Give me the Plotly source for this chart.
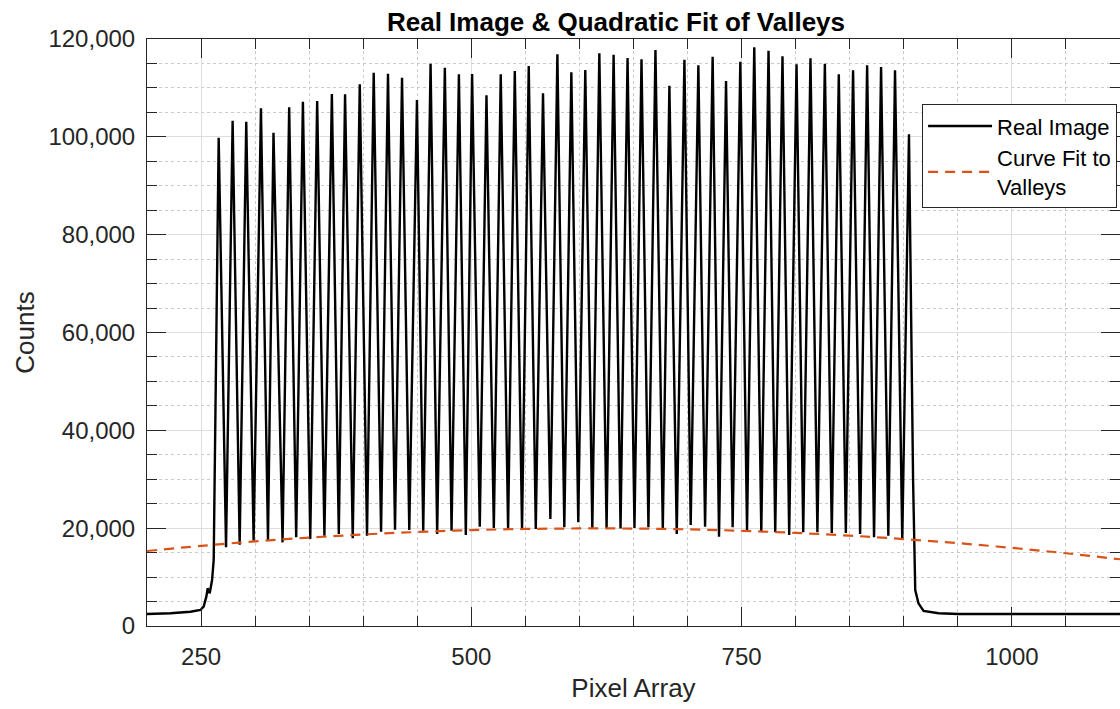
import plotly.graph_objects as go

# ---------------- data ----------------
# left baseline and first rise
base_left_x = [200, 221.7, 240.2, 249.4, 252.4, 254.9, 256.1, 258.0, 260.2, 261.7]
base_left_y = [2450, 2600, 2920, 3270, 3950, 6000, 7700, 6680, 9400, 13500]

# peaks of the real image
peak_x = [266.3, 279.2, 291.8, 305.4, 317.0, 331.5, 344.2, 357.4, 371.0, 383.2,
          396.8, 409.7, 422.9, 435.9, 449.7, 462.3, 475.5, 488.5, 500.7, 514.0,
          527.2, 540.2, 553.1, 566.3, 579.6, 592.5, 605.4, 618.4, 631.6, 644.5,
          657.4, 670.3, 683.2, 697.1, 710.0, 723.2, 735.6, 748.8, 761.7, 774.9,
          787.8, 800.8, 813.7, 827.0, 839.9, 853.1, 866.1, 879.0, 891.9, 904.8]
peak_y = [99830, 103300, 103090, 105830, 100850, 106040, 107180, 107330, 108760, 108690,
          110740, 113110, 112910, 112090, 107530, 114950, 114130, 112780, 112850, 108490,
          112780, 113460, 114480, 108900, 116870, 113190, 113660, 117080, 116790, 116120,
          115850, 117750, 110450, 115770, 114620, 116380, 111410, 115360, 118300, 117610,
          116460, 114830, 116050, 114950, 112780, 113600, 114620, 114270, 113600, 100520]

# valleys between the peaks
valley_x = [273.1, 285.7, 298.6, 311.9, 325.4, 338.0, 351.0, 364.1, 377.4, 390.3,
            403.5, 416.5, 429.4, 442.6, 455.5, 468.4, 481.7, 494.9, 507.8, 520.8,
            534.0, 546.9, 559.6, 573.1, 586.0, 598.9, 611.9, 625.1, 638.0, 650.9,
            663.8, 677.1, 690.0, 702.9, 716.2, 729.1, 741.7, 755.0, 768.2, 781.1,
            794.0, 807.0, 820.1, 833.4, 846.4, 859.6, 872.5, 885.7, 898.6]
valley_y = [16080, 16620, 17440, 17580, 17100, 18130, 17780, 18460, 18800, 17920,
            18460, 19280, 19680, 19620, 19480, 18800, 19480, 18600, 20300, 20030,
            19830, 19620, 19830, 21870, 20170, 21190, 19830, 20030, 19960, 20030,
            20170, 19830, 18800, 20640, 20300, 18250, 20170, 19620, 19280, 19150,
            18600, 19150, 19150, 19010, 19010, 18800, 18130, 18460, 17580]

# final fall and right baseline
base_right_x = [908.6, 910.6, 913.6, 918.3, 932.2, 950.7, 1100]
base_right_y = [29800, 7360, 4640, 3070, 2600, 2450, 2450]

# quadratic fit to valleys
fit_x = [200, 250, 300, 350, 400, 450, 500, 550, 600, 650,
         700, 750, 800, 850, 900, 950, 1000, 1050, 1100]
fit_y = [15330, 16380, 17290, 18070, 18710, 19220, 19600, 19840, 19940, 19920,
         19760, 19460, 19030, 18470, 17770, 16940, 15970, 14870, 13640]

x_ticks = [250, 500, 750, 1000]
y_ticks = [0, 20000, 40000, 60000, 80000, 100000, 120000]

# ---------------- assemble the real-image line ----------------
real_x = list(base_left_x)
real_y = list(base_left_y)
for i in range(len(peak_x)):
    real_x.append(peak_x[i]); real_y.append(peak_y[i])
    if i < len(valley_x):
        real_x.append(valley_x[i]); real_y.append(valley_y[i])
real_x += base_right_x
real_y += base_right_y

FONT = "Liberation Sans, Arial, Helvetica, sans-serif"
AX = "#262626"

fig = go.Figure()
fig.add_trace(go.Scatter(x=real_x, y=real_y, mode="lines", name="Real Image",
                         line=dict(color="black", width=2.4)))
fig.add_trace(go.Scatter(x=fit_x, y=fit_y, mode="lines", name="Curve Fit to<br>Valleys",
                         line=dict(color="#D95319", width=2.2, dash="10px,7px", shape="spline")))

axis_common = dict(
    showline=True, linecolor=AX, linewidth=1, mirror="ticks",
    ticks="inside", tickcolor=AX, tickwidth=1, ticklen=19,
    showgrid=True, gridcolor="#dedede", gridwidth=1,
    zeroline=False,
    tickfont=dict(family=FONT, size=24, color=AX),
)

fig.update_layout(
    width=1120, height=709,
    margin=dict(l=147, r=0, t=39, b=83),
    paper_bgcolor="white", plot_bgcolor="white",
    title=dict(text="<b>Real Image & Quadratic Fit of Valleys</b>",
               x=616 / 1120, xanchor="center", xref="container",
               y=1 - 22 / 709, yanchor="middle", yref="container",
               font=dict(family=FONT, size=26, color="black")),
    xaxis=dict(range=[200, 1100], tickvals=x_ticks, ticktext=[str(v) for v in x_ticks],
               title=dict(text="Pixel Array", font=dict(family=FONT, size=26, color=AX), standoff=10),
               ticklabelstandoff=9,
               minor=dict(dtick=50, tick0=0, ticks="inside", ticklen=10, tickcolor=AX,
                          showgrid=True, gridcolor="#c9c9c9", griddash="dot", gridwidth=1),
               **axis_common),
    yaxis=dict(range=[0, 120000], tickvals=y_ticks, ticktext=[f"{v:,}" for v in y_ticks],
               title=dict(text="Counts", font=dict(family=FONT, size=26, color=AX), standoff=6),
               ticklabelstandoff=6,
               minor=dict(dtick=5000, tick0=0, ticks="inside", ticklen=10, tickcolor=AX,
                          showgrid=True, gridcolor="#c9c9c9", griddash="dot", gridwidth=1),
               **axis_common),
    legend=dict(x=0.997, y=0.889, xanchor="right", yanchor="top",
                bgcolor="white", bordercolor=AX, borderwidth=1,
                font=dict(family=FONT, size=22, color="black"),
                itemwidth=64, tracegroupgap=2),
    showlegend=True,
)

fig.write_html("out.html")
